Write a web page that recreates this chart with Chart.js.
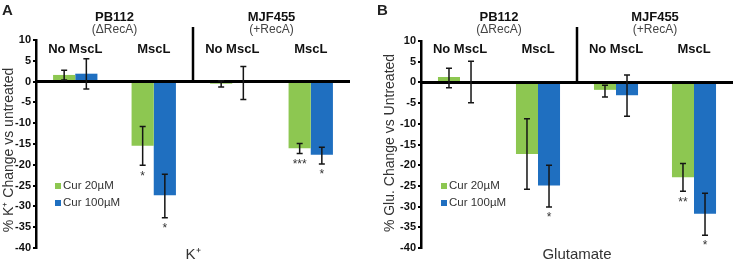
<!DOCTYPE html>
<html>
<head>
<meta charset="utf-8">
<script src="https://cdn.jsdelivr.net/npm/chart.js@4.4.0/dist/chart.umd.min.js"></script>
<style>
html, body { margin: 0; padding: 0; background: #fff; }
#wrap { position: relative; width: 733px; height: 262px; }
.panel { position: absolute; top: 0; height: 262px; }
</style>
</head>
<body>
<div id="wrap">
  <div class="panel" style="left:0;width:363px"><canvas id="chartA" width="363" height="262"></canvas></div>
  <div class="panel" style="left:363px;width:370px"><canvas id="chartB" width="370" height="262"></canvas></div>
</div>
<script>
var categories = ['No MscL', 'MscL', 'No MscL', 'MscL'];
var strains = ['PB112', 'MJF455'];
var strainNotes = ['(ΔRecA)', '(+RecA)'];
var seriesNames = ['Cur 20µM', 'Cur 100µM'];
var yMin = -40, yMax = 10, yStep = 5;

// panel A - K+
var kCur20 = [1.6, -15.4, -0.5, -16.0];
var kCur100 = [1.9, -27.3, 0, -17.6];
var kCur20Lo = [0.4, -20.1, -1.3, -17.3];
var kCur20Hi = [2.7, -10.8, 0.2, -14.9];
var kCur100Lo = [-1.8, -32.7, -4.3, -19.8];
var kCur100Hi = [5.5, -22.3, 3.6, -15.8];
var kStars20 = ['', '*', '', '***'];
var kStars100 = ['', '*', '', '*'];

// panel B - glutamate
var gCur20 = [1.3, -17.3, -1.8, -22.9];
var gCur100 = [0, -24.9, -3.1, -31.7];
var gCur20Lo = [-1.3, -25.8, -3.5, -26.3];
var gCur20Hi = [3.4, -8.8, -0.7, -19.6];
var gCur100Lo = [-4.9, -30.1, -8.2, -36.9];
var gCur100Hi = [5.1, -20.0, 1.8, -26.8];
var gStars20 = ['', '', '', '**'];
var gStars100 = ['', '*', '', '*'];

var green = '#8dc751';
var blue = '#1f6fc0';
var fam = "'Liberation Sans', Arial, sans-serif";
var narrow = "'Liberation Sans Narrow', 'Liberation Sans', Arial, sans-serif";

function makePanel(id, o) {
    var annot = {
        id: 'annot',
        afterDatasetsDraw: function(chart) {
            var ctx = chart.ctx, x = chart.scales.x, y = chart.scales.y, a = chart.chartArea;
            var y0 = y.getPixelForValue(0);
            ctx.save();
            // zero line
            ctx.strokeStyle = '#000';
            ctx.lineWidth = 3;
            ctx.beginPath();
            ctx.moveTo(a.left, y0);
            ctx.lineTo(a.right, y0);
            ctx.stroke();
            // strain divider
            var xd = (x.getPixelForValue(1) + x.getPixelForValue(2)) / 2;
            ctx.lineWidth = 2.5;
            ctx.beginPath();
            ctx.moveTo(xd, 27);
            ctx.lineTo(xd, y0);
            ctx.stroke();
            // error bars + stars
            [0, 1].forEach(function(i) {
                var meta = chart.getDatasetMeta(i);
                var lo = o.lo[i], hi = o.hi[i], st = o.stars[i];
                meta.data.forEach(function(bar, j) {
                    var yl = y.getPixelForValue(lo[j]), yh = y.getPixelForValue(hi[j]);
                    ctx.strokeStyle = '#151515';
                    ctx.lineWidth = 1.5;
                    ctx.beginPath();
                    ctx.moveTo(bar.x, yl); ctx.lineTo(bar.x, yh);
                    ctx.moveTo(bar.x - 3, yl); ctx.lineTo(bar.x + 3, yl);
                    ctx.moveTo(bar.x - 3, yh); ctx.lineTo(bar.x + 3, yh);
                    ctx.stroke();
                    if (st[j]) {
                        ctx.fillStyle = '#333';
                        ctx.font = '12px ' + fam;
                        ctx.textAlign = 'center';
                        ctx.textBaseline = 'top';
                        ctx.fillText(st[j], bar.x, yl + 5);
                    }
                });
            });
            ctx.restore();
        },
        afterDraw: function(chart) {
            var ctx = chart.ctx, x = chart.scales.x, a = chart.chartArea;
            ctx.save();
            ctx.textAlign = 'center';
            ctx.textBaseline = 'middle';
            // strain headers
            for (var s = 0; s < 2; s++) {
                var cx = (x.getPixelForValue(2 * s) + x.getPixelForValue(2 * s + 1)) / 2;
                ctx.fillStyle = '#111';
                ctx.font = 'bold 13px ' + fam;
                ctx.fillText(strains[s], cx, 17);
                ctx.fillStyle = '#444';
                ctx.font = '12px ' + fam;
                ctx.fillText(strainNotes[s], cx, 30);
            }
            // category labels
            ctx.fillStyle = '#111';
            ctx.font = 'bold 13px ' + fam;
            categories.forEach(function(c, j) {
                ctx.fillText(c, x.getPixelForValue(j), 49);
            });
            // x title
            ctx.fillStyle = '#333';
            ctx.font = '15px ' + fam;
            ctx.fillText(o.xTitle, (a.left + a.right) / 2, 255);
            // y title
            ctx.save();
            ctx.font = '14px ' + fam;
            ctx.translate(o.yTitleX, o.yTitleY);
            ctx.rotate(-Math.PI / 2);
            ctx.fillText(o.yTitle, 0, 0);
            ctx.restore();
            // panel letter
            ctx.textAlign = 'left';
            ctx.textBaseline = 'top';
            ctx.fillStyle = '#222';
            ctx.font = 'bold 15px ' + fam;
            ctx.fillText(o.letter, o.letterX, 3);
            // legend
            ctx.font = '11.5px ' + fam;
            ctx.textBaseline = 'middle';
            [green, blue].forEach(function(col, i) {
                var ly = 186 + i * 17;
                ctx.fillStyle = col;
                ctx.fillRect(o.legendX, ly - 3, 6, 6);
                ctx.fillStyle = '#333';
                ctx.fillText(seriesNames[i], o.legendX + 8, ly);
            });
            ctx.restore();
        }
    };

    return new Chart(document.getElementById(id), {
        type: 'bar',
        data: {
            labels: categories,
            datasets: [
                { label: seriesNames[0], data: o.d20, backgroundColor: green },
                { label: seriesNames[1], data: o.d100, backgroundColor: blue }
            ]
        },
        options: {
            responsive: false,
            animation: false,
            events: [],
            categoryPercentage: 0.565,
            barPercentage: 1.0,
            layout: { padding: { left: 0, right: o.padRight, top: o.padTop, bottom: 14 } },
            plugins: { legend: { display: false }, tooltip: { enabled: false } },
            scales: {
                x: { display: false, offset: true },
                y: {
                    min: yMin, max: yMax,
                    ticks: { stepSize: yStep, color: '#111', padding: 2, font: { family: narrow, weight: 'bold', size: 11 } },
                    grid: { drawOnChartArea: false, drawTicks: true, tickLength: 3, color: '#000', lineWidth: 2 },
                    border: { display: true, color: '#000', width: 2.5 },
                    afterFit: function(s) { s.width = o.axisX; }
                }
            }
        },
        plugins: [annot]
    });
}

makePanel('chartA', {
    d20: kCur20, d100: kCur100,
    lo: [kCur20Lo, kCur100Lo], hi: [kCur20Hi, kCur100Hi], stars: [kStars20, kStars100],
    xTitle: 'K⁺', yTitle: '% K⁺ Change vs untreated', yTitleX: 9, yTitleY: 150,
    letter: 'A', letterX: 2, legendX: 55, axisX: 36, padTop: 40, padRight: 13
});
makePanel('chartB', {
    d20: gCur20, d100: gCur100,
    lo: [gCur20Lo, gCur100Lo], hi: [gCur20Hi, gCur100Hi], stars: [gStars20, gStars100],
    xTitle: 'Glutamate', yTitle: '% Glu. Change vs Untreated', yTitleX: 27, yTitleY: 143,
    letter: 'B', letterX: 14, legendX: 78, axisX: 58, padTop: 41, padRight: 0
});
</script>
</body>
</html>
